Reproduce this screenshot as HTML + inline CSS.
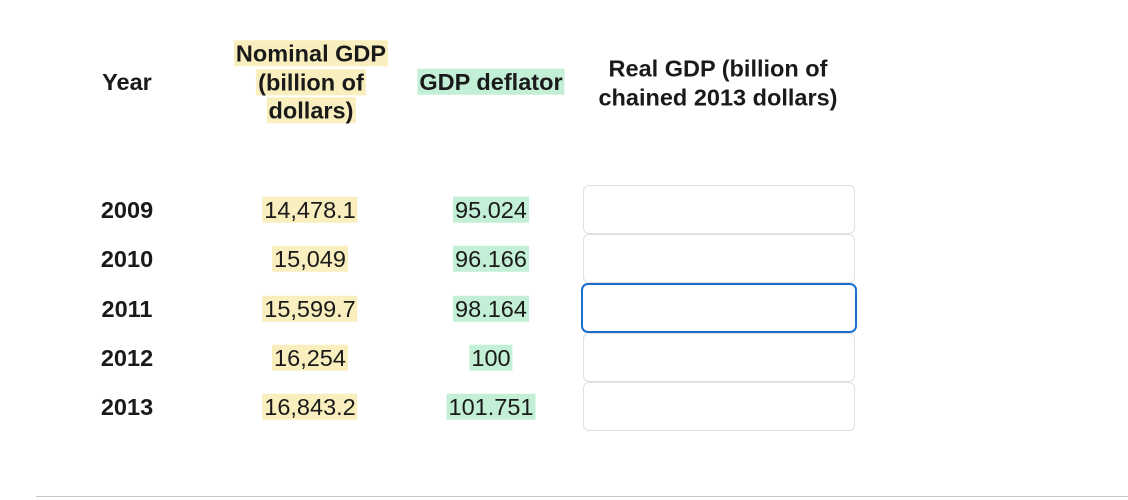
<!DOCTYPE html>
<html><head><meta charset="utf-8">
<style>
html,body{margin:0;padding:0;width:1128px;height:500px;background:#fff;overflow:hidden;}
body{font-family:"Liberation Sans",Arial,sans-serif;color:#1a1a1a;position:relative;}
.c{position:absolute;transform:translate(-50%,-50%);text-align:center;white-space:nowrap;font-size:23.5px;line-height:28.5px;}
.h{font-weight:bold;}
.y{background:#f9efbe;padding:0 2px;}
.g{background:#c2efd6;padding:0 2px;}
.inp{position:absolute;left:583px;width:270px;height:47px;border:1px solid #e0e0e0;border-radius:6px;background:#fff;box-sizing:content-box;}
.inp.f{left:581px;width:272px;height:46px;border:2px solid #1a6fcf;border-radius:7px;}
.rule{position:absolute;left:36px;top:496px;width:1092px;height:1px;background:#c8c8c8;}
</style></head><body>
<div class="c h" style="left:127px;top:82px">Year</div>
<div class="c h" style="left:311px;top:82px"><span class="y">Nominal GDP</span><br><span class="y">(billion of</span><br><span class="y">dollars)</span></div>
<div class="c h" style="left:491px;top:82px"><span class="g">GDP deflator</span></div>
<div class="c h" style="left:718px;top:83px">Real GDP (billion of<br>chained 2013 dollars)</div>
<div id="rows"></div>
<div class="rule"></div>
<script>
var years=["2009","2010","2011","2012","2013"];
var nominal=["14,478.1","15,049","15,599.7","16,254","16,843.2"];
var deflator=["95.024","96.166","98.164","100","101.751"];
var rows=document.getElementById('rows');
for(var i=0;i<years.length;i++){
  var cy=210+i*49.3;
  var a=document.createElement('div');a.className='c h';a.style.left='127px';a.style.top=cy+'px';a.textContent=years[i];
  
  
  rows.appendChild(a);
  var b=document.createElement('div');b.className='c';b.style.left='310px';b.style.top=cy+'px';b.innerHTML='<span class="y">'+nominal[i]+'</span>';
  
  
  rows.appendChild(b);
  var d=document.createElement('div');d.className='c';d.style.left='491px';d.style.top=cy+'px';d.innerHTML='<span class="g">'+deflator[i]+'</span>';
  
  
  rows.appendChild(d);
  var e=document.createElement('div');e.className='inp'+(i==2?' f':'');
  e.style.top=(i==2?(cy-26):(cy-25))+'px';
  
  
  rows.appendChild(e);
}
</script>
</body></html>
